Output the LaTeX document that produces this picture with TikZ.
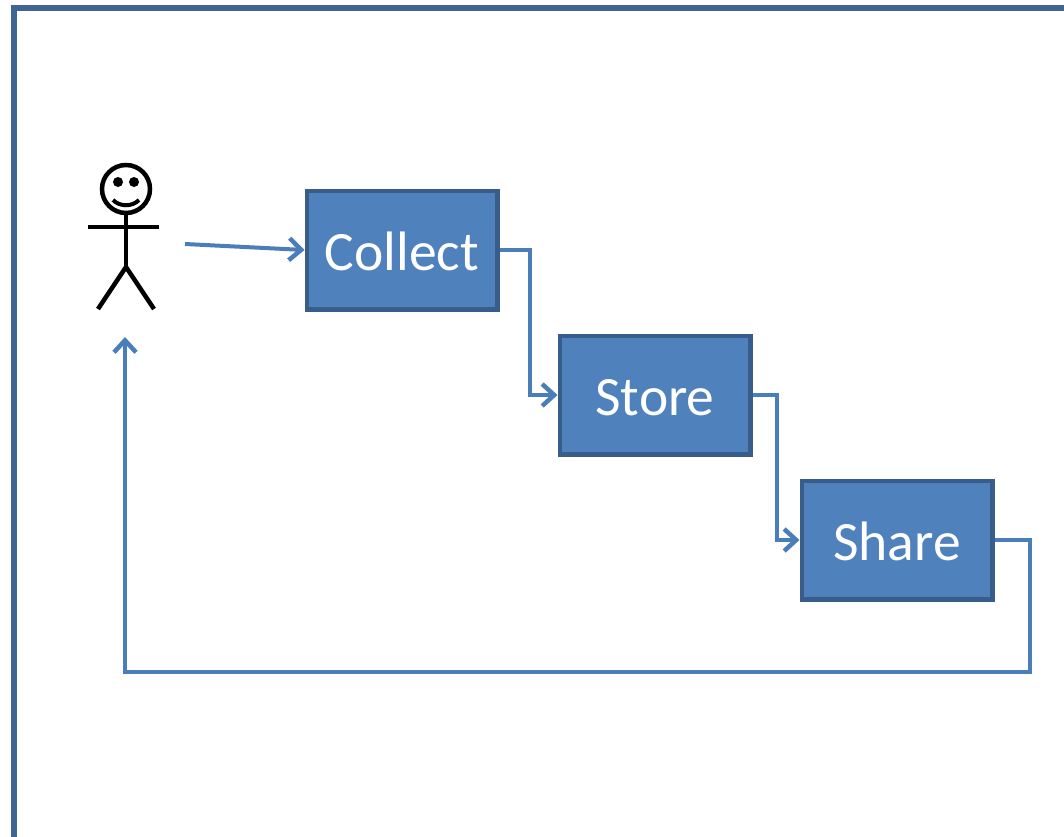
\documentclass[tikz,border=0pt]{standalone}
\usepackage{fontspec}
\setmainfont{Carlito}
\usetikzlibrary{arrows.meta}
\tikzset{
	stagebox/.style = {draw = boxedge, fill = boxfill, line width = 0.045cm, minimum width = 1.905cm, minimum height = 1.185cm, inner sep = 0pt, text = white, text height = 0.4cm, text depth = 0cm, font = \fontsize{15.8}{18}\selectfont},
	flowline/.style = {draw = flowblue, line width = 0.04cm, -{Straight Barb[length = 0.12cm, width = 0.22cm, line width = 0.045cm]}},
	stickline/.style = {draw = black, line width = 0.045cm}
}
\definecolor{boxfill}{HTML}{4F81BD}
\definecolor{boxedge}{HTML}{385D8A}
\definecolor{flowblue}{HTML}{4A7EBB}
\definecolor{frameblue}{HTML}{3F6592}

\begin{document}
\begin{tikzpicture}
			\useasboundingbox (0,0) rectangle (10.64,8.36);
			
			\draw[frameblue, line width = 0.055cm] (0.14,-0.1) -- (0.14,8.28) -- (10.74,8.28);
			
			\draw[stickline] (1.26,6.47) circle (0.24);
			\fill (1.18,6.54) circle (0.05);
			\fill (1.34,6.54) circle (0.05);
			\draw[stickline, line width = 0.04cm] (1.13,6.36) .. controls (1.2,6.29) and (1.32,6.29) .. (1.39,6.36);
			\draw[stickline] (0.88,6.09) -- (1.59,6.09);
			\draw[stickline] (1.26,6.23) -- (1.26,5.69);
			\draw[stickline] (0.98,5.27) -- (1.26,5.69) -- (1.54,5.27);
			
			\node[stagebox] (Collect) at (4.02,5.86) {Collect};
			\node[stagebox] (Store) at (6.55,4.41) {Store};
			\node[stagebox] (Share) at (8.97,2.96) {Share};
			
			\coordinate (personout) at (1.85,5.92);
			\coordinate (personin) at (1.25,4.99);
			
			\draw[flowline] (personout) -- (Collect.west);
			\draw[flowline] (Collect.east) -- ++(0.3,0) |- (Store.west);
			\draw[flowline] (Store.east) -- ++(0.24,0) |- (Share.west);
			\draw[flowline] (Share.east) -- ++(0.35,0) -- ++(0,-1.32) -| (personin);
		\end{tikzpicture}
\end{document}
